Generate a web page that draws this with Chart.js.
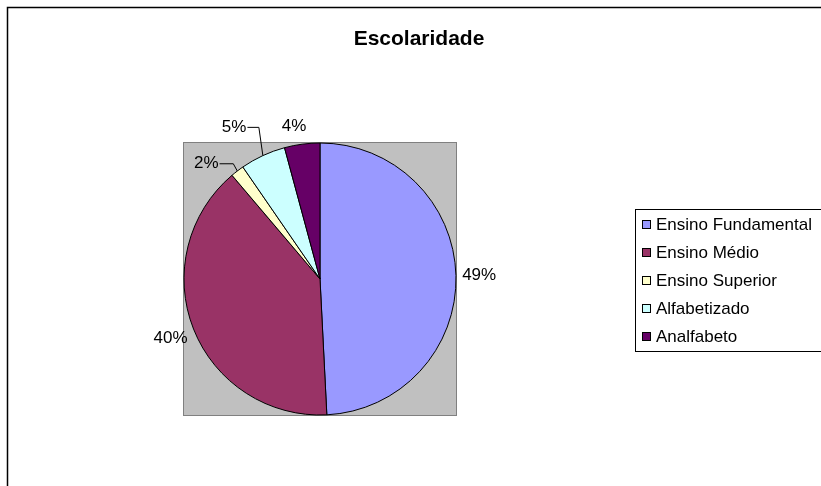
<!DOCTYPE html>
<html>
<head>
<meta charset="utf-8">
<script src="https://cdn.jsdelivr.net/npm/chart.js@4.4.1/dist/chart.umd.min.js"></script>
<style>
  body { margin: 0; background: #fff; }
  canvas { display: block; }
</style>
</head>
<body>
<canvas id="pieChart" width="821" height="486"></canvas>
<script>
// dados do grafico
var chartTitle = 'Escolaridade'
var categorias = ['Ensino Fundamental', 'Ensino Médio', 'Ensino Superior', 'Alfabetizado', 'Analfabeto']
var valores = [49.2, 39.6, 1.6, 5.4, 4.2]
var cores = ['#9999FF', '#993366', '#FFFFCC', '#CCFFFF', '#660066']

var FONT = '"Liberation Sans", Arial, sans-serif'

// moldura, area cinza, titulo, rotulos e legenda (estilo excel)
var excelPlugin = {
    id: 'excelPie',
    beforeDraw: function(chart) {
        var ctx = chart.ctx
        var a = chart.chartArea
        ctx.save()
        ctx.fillStyle = '#fff'
        ctx.fillRect(0, 0, chart.width, chart.height)
        // moldura externa
        ctx.strokeStyle = '#000'
        ctx.lineWidth = 1.5
        ctx.strokeRect(7.5, 7.5, chart.width + 20, chart.height + 20)
        // area de plotagem
        ctx.fillStyle = '#C0C0C0'
        ctx.fillRect(a.left - 1, a.top - 1, a.right - a.left + 2, a.bottom - a.top + 2)
        ctx.strokeStyle = '#808080'
        ctx.lineWidth = 1
        ctx.strokeRect(a.left - 0.5, a.top - 0.5, a.right - a.left + 1, a.bottom - a.top + 1)
        ctx.restore()
    },
    afterDraw: function(chart, args, opts) {
        var ctx = chart.ctx
        var meta = chart.getDatasetMeta(0)
        var data = chart.data.datasets[0].data
        var total = data.reduce(function(s, v) { return s + v }, 0)
        ctx.save()

        // titulo
        ctx.fillStyle = '#000'
        ctx.font = 'bold 21px ' + FONT
        ctx.textAlign = 'center'
        ctx.textBaseline = 'alphabetic'
        ctx.fillText(chartTitle, 419, 45)

        // rotulos de porcentagem
        ctx.font = '17px ' + FONT
        ctx.textAlign = 'center'
        ctx.textBaseline = 'middle'
        meta.data.forEach(function(arc, i) {
            var p = arc.getProps(['x', 'y', 'startAngle', 'endAngle', 'outerRadius'], true)
            var mid = (p.startAngle + p.endAngle) / 2
            var dx = Math.cos(mid), dy = Math.sin(mid)
            var txt = Math.round(data[i] / total * 100) + '%'
            var hw = ctx.measureText(txt).width / 2, hh = 8
            var dist = p.outerRadius + 6 + hw * Math.abs(dx) + hh * Math.abs(dy)
            var cx = p.x + dist * dx, cy = p.y + dist * dy
            var nudge = opts.nudge[i] || [0, 0]
            cx += nudge[0]
            cy += nudge[1]
            ctx.fillStyle = '#000'
            ctx.fillText(txt, cx, cy)
            if (nudge[0] !== 0 && opts.leader.indexOf(i) >= 0) {
                // linha de chamada
                var ax = p.x + p.outerRadius * dx, ay = p.y + p.outerRadius * dy
                ctx.strokeStyle = '#000'
                ctx.lineWidth = 1
                ctx.beginPath()
                ctx.moveTo(cx + hw + 1, cy + 0.5)
                ctx.lineTo(ax - 4, cy + 0.5)
                ctx.lineTo(ax, ay)
                ctx.stroke()
            }
        })

        // legenda
        var lx = 635.5, ly = 209.5
        ctx.strokeStyle = '#000'
        ctx.lineWidth = 1
        ctx.strokeRect(lx, ly, 300, 142)
        ctx.textAlign = 'left'
        chart.data.labels.forEach(function(lbl, i) {
            var yy = 224 + i * 28
            ctx.fillStyle = cores[i]
            ctx.fillRect(642, yy - 4, 9, 9)
            ctx.strokeStyle = '#000'
            ctx.strokeRect(642.5, yy - 3.5, 8, 8)
            ctx.fillStyle = '#000'
            ctx.fillText(lbl, 656, yy + 1)
        })
        ctx.restore()
    }
}

var pieCanvas = document.getElementById('pieChart').getContext('2d')
new Chart(pieCanvas, {
    type: 'pie',
    data: {
        labels: categorias,
        datasets: [{
            data: valores,
            backgroundColor: cores,
            borderColor: '#000',
            borderWidth: 1,
            radius: 136
        }]
    },
    options: {
        responsive: false,
        animation: false,
        layout: { padding: { left: 184, right: 365, top: 143, bottom: 71 } },
        plugins: {
            legend: { display: false },
            title: { display: false },
            tooltip: { enabled: false },
            excelPie: {
                nudge: { 2: [-19, 8], 3: [-21, -12], 4: [-6, -2] },
                leader: [2, 3]
            }
        }
    },
    plugins: [excelPlugin]
})
</script>
</body>
</html>
